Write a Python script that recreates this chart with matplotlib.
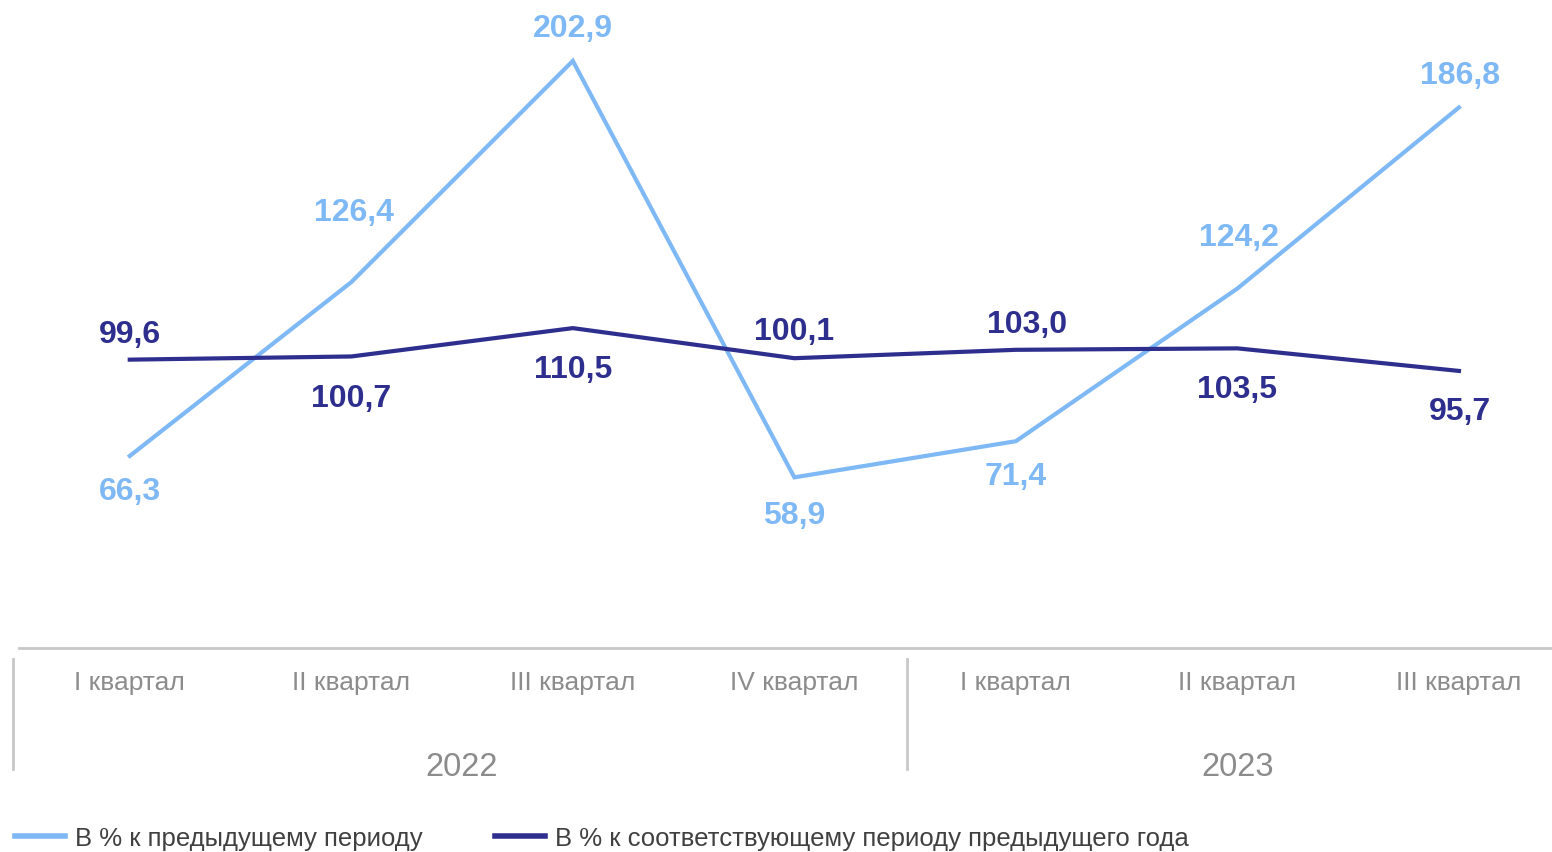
import matplotlib
matplotlib.use("Agg")
import matplotlib.pyplot as plt
import matplotlib.transforms as mtransforms
from matplotlib.lines import Line2D

plt.rcParams['font.family'] = ['Liberation Sans', 'DejaVu Sans']

quarters = ["I квартал", "II квартал", "III квартал", "IV квартал",
            "I квартал", "II квартал", "III квартал"]
years = ["2022", "2023"]
prev_period = [66.3, 126.4, 202.9, 58.9, 71.4, 124.2, 186.8]
prev_year = [99.6, 100.7, 110.5, 100.1, 103.0, 103.5, 95.7]
series_names = ["В % к предыдущему периоду",
                "В % к соответствующему периоду предыдущего года"]

c_light = "#7FB9F5"
c_dark = "#2E2E8E"
c_gray = "#8C8C8C"

# label offsets (pixels)
off_light = [(0, -35), (3, 70), (0, 33), (0, -38), (0, -35), (2, 52), (1, 32)]
off_dark = [(0, 26), (0, -42), (0, -41), (0, 27), (11, 26), (0, -41), (1, -40)]

W, H = 1552, 853
fig = plt.figure(figsize=(W / 100, H / 100), dpi=100)
ax = fig.add_axes([19 / W, (H - 648.7) / H, (W - 19) / W, 648.7 / H])
x = list(range(len(quarters)))
ax.plot(x, prev_period, color=c_light, lw=3, solid_joinstyle='miter', zorder=3)
ax.plot(x, prev_year, color=c_dark, lw=3, solid_joinstyle='miter', zorder=3)
ax.set_xlim(-0.5, 6.42)
ax.set_ylim(0, 224.3)

for xi, v, o in zip(x, prev_period, off_light):
    ax.annotate(f"{v:.1f}".replace(".", ","), (xi, v), xytext=o, textcoords='offset pixels',
                ha='center', va='center', fontsize=23, fontweight='bold', color=c_light)
for xi, v, o in zip(x, prev_year, off_dark):
    ax.annotate(f"{v:.1f}".replace(".", ","), (xi, v), xytext=o, textcoords='offset pixels',
                ha='center', va='center', fontsize=23, fontweight='bold', color=c_dark)

for s in ['top', 'right', 'left']:
    ax.spines[s].set_visible(False)
ax.spines['bottom'].set_color("#C8C8C8")
ax.spines['bottom'].set_linewidth(2)
ax.set_yticks([])
ax.set_xticks(x, quarters)
ax.tick_params(axis='x', length=0, pad=16, labelsize=19, labelcolor=c_gray)

# year labels
for yr, cx in zip(years, [1.5, 5.0]):
    ax.annotate(yr, (cx, 0), xycoords='data', xytext=(0, -119), textcoords='offset pixels',
                ha='center', va='center', fontsize=23.5, color=c_gray, annotation_clip=False)

# group separators
tr = mtransforms.blended_transform_factory(ax.transData, fig.transFigure)
for sx in [-0.528, 3.51]:
    fig.add_artist(Line2D([sx, sx], [1 - 660 / H, 1 - 770 / H], transform=tr,
                          color="#C8C8C8", lw=2))

handles = [Line2D([], [], color=c_light, lw=4), Line2D([], [], color=c_dark, lw=4)]
fig.legend(handles, series_names, loc='center left', bbox_to_anchor=(15 / W, 1 - 839 / H),
           ncol=2, frameon=False, fontsize=18.5, handlelength=1.95, handletextpad=0.4,
           columnspacing=2.8, borderpad=0, borderaxespad=0, labelcolor="#404040")

fig.savefig("out.png", dpi=100)
